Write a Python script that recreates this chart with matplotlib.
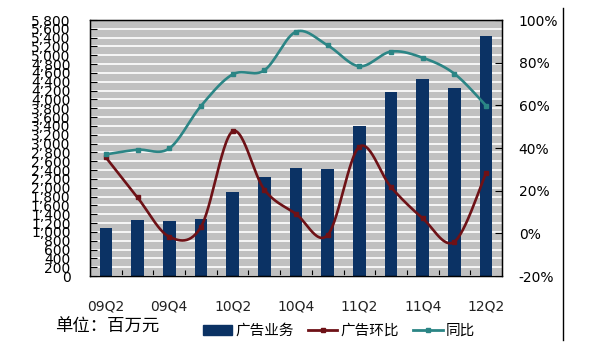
import numpy as np
import matplotlib
matplotlib.use("Agg")
import matplotlib.pyplot as plt
from matplotlib import font_manager
from matplotlib.lines import Line2D
from matplotlib.patches import Patch
from matplotlib.ticker import FuncFormatter, MultipleLocator, FixedLocator

plt.rcParams['font.family'] = ['Noto Sans CJK SC', 'DejaVu Sans']

# data
quarters = ["09Q2", "09Q3", "09Q4", "10Q1", "10Q2", "10Q3", "10Q4",
            "11Q1", "11Q2", "11Q3", "11Q4", "12Q1", "12Q2"]
ad_revenue = [1090, 1270, 1240, 1290, 1900, 2240, 2440,
              2420, 3400, 4170, 4460, 4250, 5440]
ad_qoq = [35.6, 16.8, -1.6, 3.0, 47.8, 20.5, 9.1,
          -0.8, 40.6, 21.6, 7.0, -3.9, 28.4]
ad_yoy = [37.0, 39.2, 39.8, 59.7, 74.5, 76.4, 94.5,
          88.1, 78.3, 85.2, 82.3, 74.8, 59.8]

bar_color = "#0b3264"
qoq_color = "#6e1116"
yoy_color = "#2b8585"

names = {f.name for f in font_manager.fontManager.ttflist}
narrow = "Liberation Sans Narrow" if "Liberation Sans Narrow" in names else "DejaVu Sans"


def smooth(y, n=30):
    # Excel-style smoothed line (Catmull-Rom as cubic Bezier)
    p = np.column_stack([np.arange(len(y)), np.asarray(y, float)])
    xs, ys = [], []
    for i in range(len(p) - 1):
        p0 = p[max(i - 1, 0)]
        p1, p2 = p[i], p[i + 1]
        p3 = p[min(i + 2, len(p) - 1)]
        c1 = p1 + (p2 - p0) / 6
        c2 = p2 - (p3 - p1) / 6
        t = np.linspace(0, 1, n)[:, None]
        b = ((1 - t) ** 3) * p1 + 3 * ((1 - t) ** 2) * t * c1 + 3 * (1 - t) * t ** 2 * c2 + t ** 3 * p2
        xs.extend(b[:, 0]); ys.extend(b[:, 1])
    return xs, ys


fig = plt.figure(figsize=(5.92, 3.46), dpi=100)
ax = fig.add_axes([90 / 592, 1 - 276 / 346, 412 / 592, 256 / 346])
ax.set_facecolor("#c0c0c0")

x = np.arange(len(quarters))
ax.bar(x, ad_revenue, width=0.4, color=bar_color, zorder=2)
ax.set_xlim(-0.5, len(quarters) - 0.5)
ax.set_ylim(0, 5800)
ax.yaxis.set_major_locator(MultipleLocator(200))
ax.yaxis.set_major_formatter(FuncFormatter(lambda v, p: f"{v:,.0f}"))
ax.grid(axis="y", color="white", linewidth=1.2, zorder=1)
ax.set_axisbelow(True)
ax.tick_params(axis="y", direction="in", length=5, width=0.8, pad=14, labelsize=10)
for lab in ax.get_yticklabels():
    lab.set_family(narrow)

ax.xaxis.set_major_locator(FixedLocator(x[::2]))
ax.set_xticklabels(quarters[::2], family="DejaVu Sans")
ax.xaxis.set_minor_locator(FixedLocator(np.arange(0.5, len(quarters) - 1, 1)))
ax.tick_params(axis="x", which="major", length=0, pad=17, labelsize=10, labelcolor="#222222")
ax.tick_params(axis="x", which="minor", direction="in", length=4, width=0.8)
for s in ax.spines.values():
    s.set_linewidth(1.0)

ax2 = ax.twinx()
ax2.set_ylim(-20, 100)
ax2.yaxis.set_major_locator(MultipleLocator(20))
ax2.yaxis.set_major_formatter(FuncFormatter(lambda v, p: f"{v:.0f}%"))
ax2.tick_params(axis="y", direction="in", length=5, width=0.8, pad=12, labelsize=10)
for lab in ax2.get_yticklabels():
    lab.set_family("DejaVu Sans")

sx, sy = smooth(ad_qoq)
ax2.plot(sx, sy, color=qoq_color, linewidth=1.9, zorder=3)
ax2.plot(x, ad_qoq, "s", color=qoq_color, markersize=3, zorder=4)
sx, sy = smooth(ad_yoy)
ax2.plot(sx, sy, color=yoy_color, linewidth=1.9, zorder=3)
ax2.plot(x, ad_yoy, "s", color=yoy_color, markersize=3, zorder=4)

fig.text(55 / 592, 1 - 327 / 346, "单位：百万元", fontsize=12.5, va="center", ha="left")

handles = [Patch(color=bar_color),
           Line2D([], [], color=qoq_color, linewidth=2, marker="s", markersize=3),
           Line2D([], [], color=yoy_color, linewidth=2, marker="s", markersize=3)]
fig.legend(handles, ["广告业务", "广告环比", "同比"], loc="center left",
           bbox_to_anchor=(203 / 592, 1 - 331 / 346), ncol=3, frameon=False,
           fontsize=10.5, handlelength=2.0, handletextpad=0.2, columnspacing=1.0,
           borderpad=0, borderaxespad=0)

fig.add_artist(Line2D([563 / 592, 563 / 592], [1 - 8 / 346, 1 - 340 / 346],
                      color="black", linewidth=1.0, transform=fig.transFigure))

fig.savefig("out.png", dpi=100)
